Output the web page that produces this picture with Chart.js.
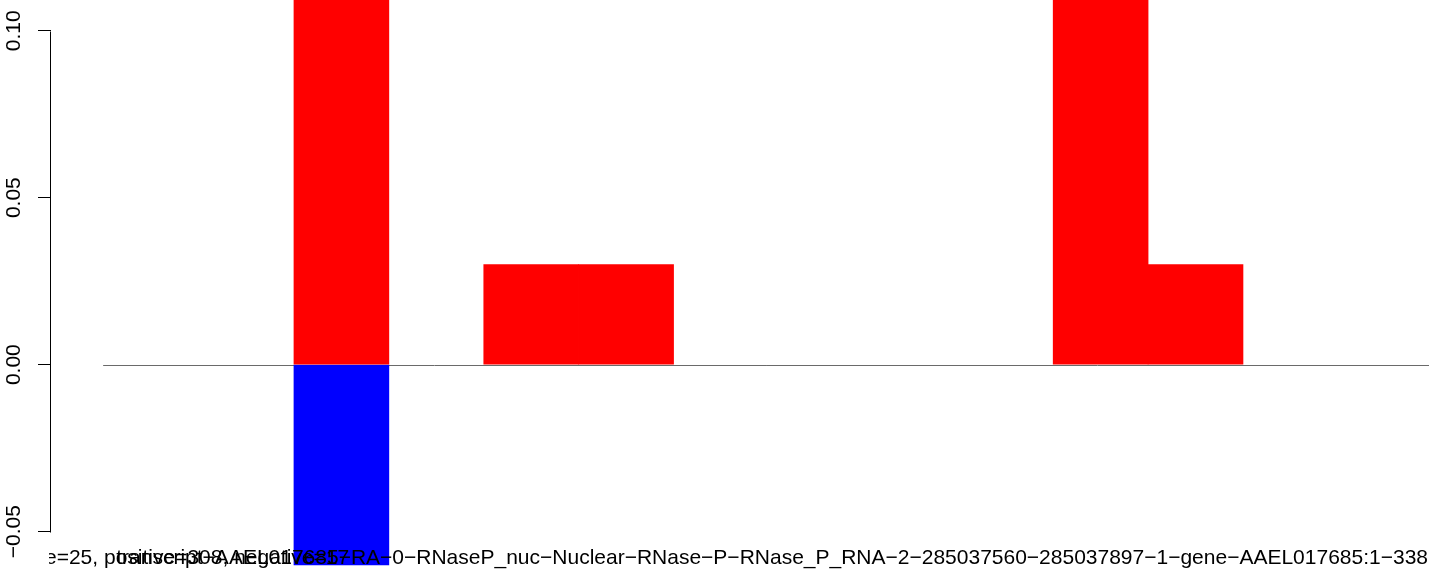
<!DOCTYPE html>
<html>
<head>
<meta charset="utf-8">
<script src="https://cdn.jsdelivr.net/npm/chart.js@4.4.1/dist/chart.umd.min.js"></script>
<style>
  html, body { margin: 0; padding: 0; background: #ffffff; }
  #wrap { width: 1429px; height: 569px; position: relative; }
</style>
</head>
<body>
<div id="wrap"><canvas id="c"></canvas></div>
<script>
// ---- data ----
const slotCenters = [0.5, 1.5, 2.5, 3.5, 4.5, 5.5, 6.5, 7.5, 8.5, 9.5, 10.5, 11.5, 12.5, 13.5];
const redValues  = [0, 0, 0.15, 0, 0.03, 0.03, 0, 0, 0, 0, 0.15, 0.03, 0, 0];
const blueValues = [0, 0, -0.06, 0, 0, 0, 0, 0, 0, 0, 0, 0, 0, 0];
const yTickValues = [-0.05, 0, 0.05, 0.10];
const labelA = "size=25, positive=308, negative=17";
const labelB = "transcript\u2212AAEL017685\u2212RA\u22120\u2212RNaseP_nuc\u2212Nuclear\u2212RNase\u2212P\u2212RNase_P_RNA\u22122\u2212285037560\u2212285037897\u22121\u2212gene\u2212AAEL017685:1\u2212338";

const FAMILY = '"Liberation Sans", Arial, Helvetica, sans-serif';
const FONT = '21px ' + FAMILY;

function fmtTick(v) {
  const s = Math.abs(v).toFixed(2);
  return v < 0 ? '\u2212' + s : s;
}

const decor = {
  id: 'decor',
  beforeDatasetsDraw(chart) {
    const { ctx, scales: { x, y }, chartArea } = chart;
    ctx.save();
    ctx.strokeStyle = '#6a6a6a';
    ctx.lineWidth = 1;
    const py = Math.round(y.getPixelForValue(0)) + 0.5;
    ctx.beginPath();
    ctx.moveTo(x.getPixelForValue(0) - 1, py);
    ctx.lineTo(chartArea.right, py);
    ctx.stroke();
    ctx.restore();
  },
  afterDraw(chart) {
    const { ctx, scales: { y } } = chart;
    ctx.save();
    ctx.strokeStyle = '#000';
    ctx.lineWidth = 1;
    const ax = Math.round(y.right) - 0.5;
    ctx.beginPath();
    ctx.moveTo(ax, Math.round(y.getPixelForValue(yTickValues[yTickValues.length - 1])) + 0.5);
    ctx.lineTo(ax, Math.round(y.getPixelForValue(yTickValues[0])) + 0.5);
    ctx.stroke();

    ctx.font = FONT;
    ctx.fillStyle = '#000';
    ctx.textBaseline = 'alphabetic';
    ctx.textAlign = 'right';
    ctx.fillText(labelB, 1428, 564);

    ctx.beginPath();
    ctx.rect(49, 530, chart.width, 50);
    ctx.clip();
    ctx.textAlign = 'left';
    const pre = ctx.measureText('siz').width;
    ctx.fillText(labelA, 45 - pre, 564);
    ctx.restore();
  }
};

const nz = v => (v === 0 ? null : v);

new Chart(document.getElementById('c'), {
  type: 'bar',
  data: {
    datasets: [
      {
        label: 'positive',
        data: slotCenters.map((c, i) => ({ x: c, y: nz(redValues[i]) })),
        backgroundColor: '#ff0000',
        borderWidth: 0
      },
      {
        label: 'negative',
        data: slotCenters.map((c, i) => ({ x: c, y: nz(blueValues[i]) })),
        backgroundColor: '#0000ff',
        borderWidth: 0
      }
    ]
  },
  options: {
    responsive: true,
    maintainAspectRatio: false,
    animation: false,
    events: [],
    barPercentage: 1,
    categoryPercentage: 1,
    layout: { padding: 0 },
    plugins: { legend: { display: false }, tooltip: { enabled: false } },
    scales: {
      x: {
        type: 'linear',
        min: -0.56,
        max: 13.96,
        stacked: true,
        offset: false,
        display: false
      },
      y: {
        type: 'linear',
        position: 'left',
        min: -0.0612,
        max: 0.1092,
        stacked: true,
        afterBuildTicks(scale) {
          scale.ticks = yTickValues.map(v => ({ value: v }));
        },
        afterFit(scale) {
          scale.width = 51;
          scale.paddingTop = 0;
          scale.paddingBottom = 0;
        },
        border: { display: false },
        grid: {
          drawOnChartArea: false,
          drawTicks: true,
          tickLength: 13,
          color: '#000',
          lineWidth: 1
        },
        ticks: {
          minRotation: 90,
          maxRotation: 90,
          crossAlign: 'center',
          padding: -3,
          color: '#000',
          font: { family: FAMILY, size: 21 },
          callback: (v) => fmtTick(v)
        }
      }
    }
  },
  plugins: [decor]
});
</script>
</body>
</html>
